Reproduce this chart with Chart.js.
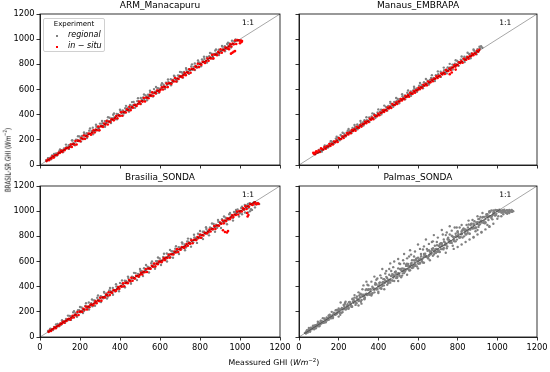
<!DOCTYPE html>
<html><head><meta charset="utf-8">
<script src="https://cdn.jsdelivr.net/npm/chart.js@4"></script>
<style>
html,body{margin:0;padding:0;background:#fff;width:550px;height:372px;overflow:hidden;position:relative;font-family:"DejaVu Sans",sans-serif;}
canvas{position:absolute;left:0;top:0;}
.axlbl{position:absolute;font-size:7.8px;color:#000;white-space:nowrap;transform:translate(-50%,-50%);}
#ylab{font-size:7.8px;transform:translate(-50%,-50%) rotate(-90deg) scaleX(0.72);}
#legend{position:absolute;left:43px;top:18px;width:62px;height:34px;border:1px solid #d0d0d0;border-radius:2px;background:rgba(255,255,255,0.85);box-sizing:border-box;}
#legend .ttl{position:absolute;top:1px;left:0;width:100%;text-align:center;font-size:7px;}
#legend .row{position:absolute;left:0;width:100%;font-size:8px;font-style:italic;}
#legend .dot{position:absolute;left:12px;top:5px;width:2px;height:2px;}
#legend .txt{position:absolute;left:24px;top:0;}
</style></head><body>
<canvas id="c0" width="550" height="372"></canvas>
<canvas id="c1" width="550" height="372"></canvas>
<canvas id="c2" width="550" height="372"></canvas>
<canvas id="c3" width="550" height="372"></canvas>
<div id="legend"><div class="ttl">Experiment</div></div>
<div id="ylab" class="axlbl" style="left:7px;top:160px">BRASIL-SR GHI (<i>Wm</i><sup style="font-size:5.5px">−2</sup>)</div>
<div id="xlab" class="axlbl" style="left:274px;top:362px">Meassured GHI (<i>Wm</i><sup style="font-size:5.5px">−2</sup>)</div>
<script>
// ---------------- data ----------------
const panelTitles = ['ARM_Manacapuru','Manaus_EMBRAPA','Brasilia_SONDA','Palmas_SONDA'];
const seriesNames = ['regional','in \u2212 situ'];
const tickValues = [0,200,400,600,800,1000,1200];
const oneToOne = [[0,0],[1200,1200]];

const armRegional = [[30,39],[36,38],[42,55],[48,45],[54,60],[60,76],[66,69],[72,66],[78,89],[84,91],[90,89],[96,110],[102,106],[108,118],[114,110],[120,132],[126,128],[132,141],[138,139],[144,157],[150,144],[156,168],[162,195],[168,175],[174,162],[180,202],[186,200],[192,190],[198,227],[204,213],[210,230],[216,207],[222,247],[228,232],[234,252],[240,243],[246,273],[252,246],[258,270],[264,297],[270,277],[276,264],[282,304],[288,302],[294,292],[300,329],[306,315],[312,332],[318,309],[324,349],[330,334],[336,354],[342,345],[348,375],[354,348],[360,372],[366,399],[372,379],[378,366],[384,406],[390,404],[396,394],[402,431],[408,417],[414,434],[420,411],[426,451],[432,436],[438,456],[444,447],[450,477],[456,450],[462,474],[468,501],[474,481],[480,468],[486,508],[492,506],[498,496],[504,533],[510,519],[516,536],[522,513],[528,553],[534,538],[540,558],[546,549],[552,579],[558,552],[564,576],[570,603],[576,583],[582,570],[588,610],[594,608],[600,598],[606,635],[612,621],[618,638],[624,615],[630,655],[636,640],[642,660],[648,651],[654,681],[660,654],[666,678],[672,705],[678,685],[684,672],[690,712],[696,710],[702,700],[708,737],[714,723],[720,740],[726,717],[732,757],[738,742],[744,762],[750,753],[756,783],[762,756],[768,780],[774,807],[780,787],[786,774],[792,814],[798,812],[804,802],[810,839],[816,825],[822,842],[828,819],[834,859],[840,844],[846,864],[852,855],[858,885],[864,858],[870,882],[876,909],[882,889],[888,876],[894,916],[900,914],[906,904],[912,941],[918,927],[924,944],[930,921],[936,961],[942,946],[948,966],[954,957],[960,987],[966,960],[972,984],[978,998],[984,991]];
const armRegionalEdge = [[40,55],[55,46],[70,88],[85,76],[100,124],[115,102],[130,162],[145,128],[160,196],[175,156],[190,228],[205,186],[220,258],[235,214],[250,290],[265,244],[280,320],[295,274],[310,350],[325,304],[340,380],[355,334],[370,410],[385,364],[400,440],[415,394],[430,470],[445,424],[460,500],[475,454],[490,530],[505,484],[520,560],[535,514],[550,590],[565,544],[580,620],[595,574],[610,650],[625,604],[640,680],[655,634],[670,710],[685,664],[700,740],[715,694],[730,770],[745,724],[760,800],[775,754],[790,830],[805,784],[820,860],[835,814],[850,890],[865,844],[880,918],[895,874],[910,946],[925,904],[940,972],[955,934]];
const armInsitu = [[33,31],[39,43],[45,38],[51,52],[57,53],[63,70],[69,59],[75,77],[81,80],[87,81],[93,97],[99,96],[105,113],[111,103],[117,117],[123,118],[129,132],[135,135],[141,134],[147,143],[153,162],[159,144],[165,167],[171,162],[177,191],[183,163],[189,194],[195,193],[201,189],[207,215],[213,207],[219,235],[225,208],[231,232],[237,227],[243,249],[249,248],[255,241],[261,257],[267,276],[273,258],[279,281],[285,276],[291,305],[297,277],[303,308],[309,307],[315,303],[321,329],[327,321],[333,349],[339,322],[345,346],[351,341],[357,363],[363,362],[369,355],[375,371],[381,390],[387,372],[393,395],[399,390],[405,419],[411,391],[417,422],[423,421],[429,417],[435,443],[441,435],[447,463],[453,436],[459,460],[465,455],[471,477],[477,476],[483,469],[489,485],[495,504],[501,486],[507,509],[513,504],[519,533],[525,505],[531,536],[537,535],[543,531],[549,557],[555,549],[561,577],[567,550],[573,574],[579,569],[585,591],[591,590],[597,583],[603,599],[609,618],[615,600],[621,623],[627,618],[633,647],[639,619],[645,650],[651,649],[657,645],[663,671],[669,663],[675,691],[681,664],[687,688],[693,683],[699,705],[705,704],[711,697],[717,713],[723,732],[729,714],[735,737],[741,732],[747,761],[753,733],[759,764],[765,763],[771,759],[777,785],[783,777],[789,805],[795,778],[801,802],[807,797],[813,819],[819,818],[825,811],[831,827],[837,846],[843,828],[849,851],[855,846],[861,875],[867,847],[873,878],[879,877],[885,873],[891,899],[897,891],[903,919],[909,892],[915,916],[921,911],[927,933],[933,932],[939,925],[945,941],[951,960],[957,942],[963,965],[969,960],[975,989],[981,961],[987,992],[993,991],[999,987],[1005,990],[955,885],[962,892],[968,900],[975,905],[1000,968],[1008,978],[1010,985],[945,920]];

const manausRegional = [[90,97],[96,98],[102,114],[108,112],[114,124],[120,120],[126,140],[132,138],[138,141],[144,155],[150,147],[156,172],[162,188],[168,177],[174,188],[180,184],[186,210],[192,200],[198,217],[204,204],[210,238],[216,227],[222,228],[228,249],[234,231],[240,256],[246,272],[252,261],[258,272],[264,268],[270,294],[276,284],[282,301],[288,288],[294,322],[300,311],[306,312],[312,333],[318,315],[324,340],[330,356],[336,345],[342,356],[348,352],[354,378],[360,368],[366,385],[372,372],[378,406],[384,395],[390,396],[396,417],[402,399],[408,424],[414,440],[420,429],[426,440],[432,436],[438,462],[444,452],[450,469],[456,456],[462,490],[468,479],[474,480],[480,501],[486,483],[492,508],[498,524],[504,513],[510,524],[516,520],[522,546],[528,536],[534,553],[540,540],[546,574],[552,563],[558,564],[564,585],[570,567],[576,592],[582,608],[588,597],[594,608],[600,604],[606,630],[612,620],[618,637],[624,624],[630,658],[636,647],[642,648],[648,669],[654,651],[660,676],[666,692],[672,681],[678,692],[684,688],[690,714],[696,704],[702,721],[708,708],[714,742],[720,731],[726,732],[732,753],[738,735],[744,760],[750,776],[756,765],[762,776],[768,772],[774,798],[780,788],[786,805],[792,792],[798,826],[804,815],[810,816],[816,837],[822,819],[828,844],[834,860],[840,849],[846,860],[852,856],[858,882],[864,872],[870,889],[876,876],[882,910],[888,899],[894,900],[900,921],[906,903],[912,928],[918,944],[924,933]];
const manausRegionalEdge = [[100,120],[115,106],[130,156],[145,138],[160,190],[175,168],[190,224],[205,196],[220,256],[235,226],[250,286],[265,254],[280,318],[295,284],[310,350],[325,314],[340,380],[355,342],[370,410],[385,374],[400,442],[415,402],[430,472],[445,432],[460,502],[475,462],[490,532],[505,490],[520,562],[535,522],[550,592],[565,550],[580,622],[595,582],[610,652],[625,610],[640,684],[655,640],[670,714],[685,668],[700,744],[715,700],[730,774],[745,728],[760,804],[775,758],[790,832],[805,788],[820,862],[835,818],[850,892],[865,848],[880,918],[895,880],[910,940]];
const manausInsitu = [[72,97],[78,92],[84,100],[75,90],[81,85],[87,109],[93,100],[99,115],[105,103],[111,132],[117,125],[123,123],[129,143],[135,129],[141,149],[147,147],[153,166],[159,152],[165,168],[171,163],[177,187],[183,180],[189,195],[195,183],[201,214],[207,207],[213,207],[219,227],[225,215],[231,235],[237,235],[243,254],[249,242],[255,258],[261,253],[267,277],[273,270],[279,285],[285,273],[291,304],[297,297],[303,297],[309,317],[315,305],[321,325],[327,325],[333,344],[339,332],[345,348],[351,343],[357,367],[363,360],[369,375],[375,363],[381,394],[387,387],[393,387],[399,407],[405,395],[411,415],[417,415],[423,434],[429,422],[435,438],[441,433],[447,457],[453,450],[459,465],[465,453],[471,484],[477,477],[483,477],[489,497],[495,485],[501,505],[507,505],[513,524],[519,512],[525,528],[531,523],[537,547],[543,540],[549,555],[555,543],[561,574],[567,567],[573,567],[579,587],[585,575],[591,595],[597,595],[603,614],[609,602],[615,618],[621,613],[627,637],[633,630],[639,645],[645,633],[651,664],[657,657],[663,657],[669,677],[675,665],[681,685],[687,685],[693,704],[699,692],[705,708],[711,703],[717,727],[723,720],[729,735],[735,723],[741,754],[747,747],[753,747],[759,767],[765,755],[771,775],[777,775],[783,794],[789,782],[795,798],[801,793],[807,817],[813,810],[819,825],[825,813],[831,844],[837,837],[843,837],[849,857],[855,845],[861,865],[867,865],[873,884],[879,872],[885,888],[891,883],[897,907],[903,900],[909,915],[760,722],[770,735],[790,758]];

const brasiliaRegional = [[40,48],[46,44],[52,65],[58,60],[64,57],[70,80],[76,80],[82,78],[88,103],[94,94],[100,106],[106,97],[112,123],[118,126],[124,122],[130,143],[136,138],[142,135],[148,168],[154,163],[160,152],[166,196],[172,172],[178,190],[184,166],[190,213],[196,212],[202,197],[208,234],[214,218],[220,206],[226,246],[232,241],[238,230],[244,274],[250,250],[256,268],[262,244],[268,291],[274,290],[280,275],[286,312],[292,296],[298,284],[304,324],[310,319],[316,308],[322,352],[328,328],[334,346],[340,322],[346,369],[352,368],[358,353],[364,390],[370,374],[376,362],[382,402],[388,397],[394,386],[400,430],[406,406],[412,424],[418,400],[424,447],[430,446],[436,431],[442,468],[448,452],[454,440],[460,480],[466,475],[472,464],[478,508],[484,484],[490,502],[496,478],[502,525],[508,524],[514,509],[520,546],[526,530],[532,518],[538,558],[544,553],[550,542],[556,586],[562,562],[568,580],[574,556],[580,603],[586,602],[592,587],[598,624],[604,608],[610,596],[616,636],[622,631],[628,620],[634,664],[640,640],[646,658],[652,634],[658,681],[664,680],[670,665],[676,702],[682,686],[688,674],[694,714],[700,709],[706,698],[712,742],[718,718],[724,736],[730,712],[736,759],[742,758],[748,743],[754,780],[760,764],[766,752],[772,792],[778,787],[784,776],[790,820],[796,796],[802,814],[808,790],[814,837],[820,836],[826,821],[832,858],[838,842],[844,830],[850,870],[856,865],[862,854],[868,898],[874,874],[880,892],[886,868],[892,915],[898,914],[904,899],[910,936],[916,920],[922,908],[928,948],[934,943],[940,932],[946,976],[952,952],[958,970],[964,946],[970,993],[976,992],[982,977],[988,1014],[994,998],[1000,986],[1006,1026],[1012,1021],[1018,1010],[1024,1049],[1030,1030],[1036,1048],[1042,1024],[1048,1063],[1054,1059],[1060,1050],[1066,1066],[1072,1052],[1078,1066],[1084,1054],[1090,1065],[1096,1056],[1040,990],[1050,1000],[1060,1010],[1075,1030],[1010,975]];
const brasiliaRegionalEdge = [[50,62],[65,56],[80,100],[95,86],[110,134],[125,112],[140,170],[155,136],[170,205],[185,160],[200,238],[215,190],[230,268],[245,218],[260,298],[275,248],[290,330],[305,278],[320,358],[335,306],[350,390],[365,336],[380,420],[395,364],[410,450],[425,394],[440,480],[455,424],[470,510],[485,452],[500,540],[515,484],[530,572],[545,512],[560,600],[575,542],[590,632],[605,572],[620,662],[635,600],[650,692],[665,630],[680,722],[695,660],[710,752],[725,690],[740,782],[755,718],[770,812],[785,748],[800,842],[815,778],[830,872],[845,808],[860,902],[875,836],[890,930],[905,866],[920,958],[935,896],[950,985],[965,925],[980,1010],[995,958],[1010,1035],[1025,990],[1040,1058],[1055,1015],[1070,1072]];
const brasiliaInsitu = [[43,41],[49,52],[55,48],[61,61],[67,63],[73,78],[79,70],[85,86],[91,90],[97,92],[103,106],[109,106],[115,121],[121,113],[127,127],[133,128],[139,141],[145,144],[151,138],[157,152],[163,169],[169,155],[175,176],[181,172],[187,198],[193,175],[199,202],[205,202],[211,200],[217,224],[223,216],[229,242],[235,219],[241,241],[247,237],[253,258],[259,257],[265,252],[271,266],[277,283],[283,269],[289,290],[295,286],[301,312],[307,289],[313,316],[319,316],[325,314],[331,338],[337,330],[343,356],[349,333],[355,355],[361,351],[367,372],[373,371],[379,366],[385,380],[391,397],[397,383],[403,404],[409,400],[415,426],[421,403],[427,430],[433,430],[439,428],[445,452],[451,444],[457,470],[463,447],[469,469],[475,465],[481,486],[487,485],[493,480],[499,494],[505,511],[511,497],[517,518],[523,514],[529,540],[535,517],[541,544],[547,544],[553,542],[559,566],[565,558],[571,584],[577,561],[583,583],[589,579],[595,600],[601,599],[607,594],[613,608],[619,625],[625,611],[631,632],[637,628],[643,654],[649,631],[655,658],[661,658],[667,656],[673,680],[679,672],[685,698],[691,675],[697,697],[703,693],[709,714],[715,713],[721,708],[727,722],[733,739],[739,725],[745,746],[751,742],[757,768],[763,745],[769,772],[775,772],[781,770],[787,794],[793,786],[799,812],[805,789],[811,811],[817,807],[823,828],[829,827],[835,822],[841,836],[847,853],[853,839],[859,860],[865,856],[871,882],[877,859],[883,886],[889,886],[895,884],[901,908],[907,900],[913,926],[919,903],[925,925],[931,921],[937,942],[943,941],[949,936],[955,950],[961,967],[967,953],[973,974],[979,970],[985,996],[991,973],[997,1000],[1003,1000],[1009,998],[1015,1022],[1021,1014],[1027,1040],[1033,1017],[1039,1039],[1045,1035],[1051,1056],[1057,1055],[1063,1050],[1069,1064],[1075,1070],[1081,1055],[1087,1062],[1093,1058],[915,848],[925,835],[935,830],[940,842],[1038,958],[1042,970],[1035,985]];

const palmasRegional = [[30,33],[35,27],[40,54],[45,43],[50,71],[55,43],[60,68],[65,65],[70,87],[75,70],[80,91],[85,70],[90,95],[95,121],[100,85],[105,108],[110,130],[115,110],[120,150],[125,115],[130,140],[135,117],[140,155],[145,150],[150,137],[155,178],[160,157],[165,200],[170,150],[175,188],[180,180],[185,213],[190,182],[195,213],[200,162],[205,216],[210,274],[215,192],[220,224],[225,255],[230,222],[235,280],[240,225],[245,260],[250,224],[255,278],[260,268],[265,246],[270,304],[275,271],[280,333],[285,255],[290,309],[295,295],[300,355],[305,290],[310,345],[315,265],[320,335],[325,410],[330,300],[335,340],[340,380],[345,335],[350,410],[355,335],[360,380],[365,330],[370,400],[375,385],[380,355],[385,430],[390,385],[395,465],[400,360],[405,430],[410,410],[415,470],[420,405],[425,460],[430,380],[435,450],[440,525],[445,415],[450,455],[455,495],[460,450],[465,525],[470,450],[475,495],[480,445],[485,515],[490,500],[495,470],[500,545],[505,500],[510,580],[515,475],[520,545],[525,525],[530,585],[535,520],[540,575],[545,495],[550,565],[555,640],[560,530],[565,570],[570,610],[575,565],[580,640],[585,565],[590,610],[595,560],[600,630],[605,615],[610,585],[615,660],[620,615],[625,695],[630,590],[635,660],[640,640],[645,700],[650,635],[655,690],[660,610],[665,680],[670,755],[675,645],[680,685],[685,725],[690,680],[695,755],[700,680],[705,725],[710,675],[715,745],[720,730],[725,700],[730,775],[735,730],[740,810],[745,705],[750,775],[755,755],[760,815],[765,750],[770,805],[775,725],[780,795],[785,870],[790,760],[795,800],[800,840],[805,795],[810,870],[815,795],[820,840],[825,790],[830,860],[835,845],[840,815],[845,890],[850,845],[855,925],[860,820],[865,890],[870,870],[875,930],[880,865],[885,920],[890,840],[895,910],[900,960],[905,875],[910,915],[915,955],[920,910],[925,985],[930,910],[935,955],[940,905],[945,975],[950,960],[955,930],[960,1000],[965,960],[970,1005],[975,935],[980,1005],[985,985],[990,1010],[995,980],[1000,1008],[1005,960],[1010,1012],[1015,1000],[1020,990],[1025,1008],[1030,995],[1035,1012],[1040,1002],[1045,985],[1050,1005],[1055,998],[1060,1010],[1065,1000],[1070,995],[1075,1004],[1080,1000],[60,60],[80,82],[100,98],[120,123],[140,138],[160,163],[180,178],[200,203],[220,218],[240,243],[260,258],[280,283],[300,298],[320,324],[340,337],[360,364],[380,377],[400,404],[420,417],[440,444],[460,457],[480,484],[500,497],[520,524],[540,537],[560,564],[580,577],[600,604],[620,617],[640,644],[660,657],[680,684],[700,697],[720,724],[740,737],[760,764],[780,777],[800,804],[820,817],[840,844],[860,857],[880,884],[900,897],[920,924],[940,937],[960,962],[980,975],[70,80],[90,84],[110,128],[130,118],[150,172],[170,158],[190,215],[210,195],[230,258],[250,232],[270,300],[290,268],[310,340],[330,308],[350,380],[370,348],[390,420],[410,388],[430,460],[450,428],[470,500],[490,468],[510,540],[530,508],[550,580],[570,548],[590,620],[610,588],[630,660],[650,628],[670,700],[690,668],[710,740],[730,708],[750,780],[770,748],[790,820],[810,788],[830,860],[850,828],[870,900],[890,868],[910,940],[930,908],[950,975],[970,945],[420,540],[460,585],[500,620],[530,660],[560,690],[600,735],[640,775],[680,810],[720,850],[760,880],[480,600],[380,480],[340,440],[780,700],[800,715],[820,735],[840,755],[860,775],[880,795],[900,815],[920,835],[940,855],[960,875],[980,900],[860,820],[900,850],[950,890],[1040,990],[1060,985],[1075,995]];
const palmasRegionalCore = [[36,42],[44,35],[52,54],[60,73],[68,64],[76,62],[84,93],[92,90],[100,115],[108,101],[116,120],[124,113],[132,138],[140,131],[148,150],[156,169],[164,160],[172,158],[180,189],[188,186],[196,211],[204,190],[212,220],[220,198],[228,240],[236,218],[244,248],[252,277],[260,252],[268,240],[276,294],[284,281],[292,322],[300,286],[308,316],[316,294],[324,336],[332,314],[340,344],[348,373],[356,348],[364,336],[372,390],[380,377],[388,418],[396,382],[404,412],[412,390],[420,432],[428,410],[436,440],[444,469],[452,444],[460,432],[468,486],[476,473],[484,514],[492,478],[500,508],[508,486],[516,528],[524,506],[532,536],[540,565],[548,540],[556,528],[564,582],[572,569],[580,610],[588,574],[596,604],[604,582],[612,624],[620,602],[628,632],[636,661],[644,636],[652,624],[660,678],[668,665],[676,706],[684,670],[692,700],[700,678],[708,720],[716,698],[724,728],[732,757],[740,732],[748,720],[756,774],[764,761],[772,802],[780,766],[788,796],[796,774],[804,816],[812,794],[820,824],[828,853],[836,828],[844,816],[852,870],[860,857],[868,898],[876,862],[884,892],[892,870],[900,912],[908,890],[916,920],[924,949],[932,924],[940,912],[948,966],[956,953],[964,994],[972,958],[980,988],[988,966],[996,1008],[320,380],[345,415],[365,440],[390,455],[410,490],[435,505],[455,540],[475,555],[505,585],[525,610],[545,625],[565,655],[585,680],[610,700],[630,720],[655,740],[675,760],[700,790],[725,815],[745,830],[770,845],[795,870],[820,890],[300,250],[400,350],[500,445],[600,545],[700,640],[740,670],[880,790],[920,830],[960,880],[1000,940],[1020,960],[1030,975],[1050,980]];
const palmasRegionalMid = [[40,37],[48,58],[56,44],[64,69],[72,89],[80,72],[88,89],[96,109],[104,88],[112,119],[120,119],[128,147],[136,131],[144,141],[152,162],[160,148],[168,173],[176,193],[184,176],[192,193],[200,226],[208,176],[216,230],[224,222],[232,270],[240,230],[248,242],[256,276],[264,240],[272,281],[280,313],[288,273],[296,298],[304,330],[312,280],[320,334],[328,326],[336,374],[344,334],[352,346],[360,380],[368,344],[376,385],[384,417],[392,377],[400,402],[408,434],[416,384],[424,438],[432,430],[440,478],[448,438],[456,450],[464,484],[472,448],[480,489],[488,521],[496,481],[504,506],[512,538],[520,488],[528,542],[536,534],[544,582],[552,542],[560,554],[568,588],[576,552],[584,593],[592,625],[600,585],[608,610],[616,642],[624,592],[632,646],[640,638],[648,686],[656,646],[664,658],[672,692],[680,656],[688,697],[696,729],[704,689],[712,714],[720,746],[728,696],[736,750],[744,742],[752,790],[760,750],[768,762],[776,796],[784,760],[792,801],[800,833],[808,793],[816,818],[824,850],[832,800],[840,854],[848,846],[856,894],[864,854],[872,866],[880,900],[888,864],[896,905],[904,937],[912,897],[920,922],[928,954],[936,904],[944,958],[952,950],[960,990],[968,958],[976,970],[984,999],[992,968],[1000,1000],[1008,995],[1016,1004],[1024,990],[1032,1006],[1040,996],[1048,1008],[1056,992],[1064,1003],[1072,1009]];

// ---------------- rendering ----------------
Chart.defaults.font.family = '"DejaVu Sans", sans-serif';
Chart.defaults.color = '#000';
const GRAY = '#808080', RED = '#ff0000';
const toXY = a => a.map(p => ({x:p[0], y:p[1]}));
const W = 550, H = 372, YW = 30, XH = 16, TH = 14;

const framePlugin = {
  id:'frame',
  afterDatasetsDraw(chart){
    const {ctx, scales} = chart;
    ctx.save();
    ctx.fillStyle = '#000';
    ctx.font = '7.5px "DejaVu Sans"';
    ctx.textAlign = 'center'; ctx.textBaseline = 'middle';
    ctx.fillText('1:1', scales.x.getPixelForValue(1040), scales.y.getPixelForValue(1125));
    ctx.restore();
  },
  afterDraw(chart){
    const {ctx, chartArea:a} = chart;
    ctx.save();
    ctx.strokeStyle = '#000'; ctx.lineWidth = 0.8;
    ctx.strokeRect(a.left, a.top, a.right - a.left, a.bottom - a.top);
    ctx.restore();
  }
};

function axis(showLabels, isX){
  return {
    type:'linear', min:0, max:1200,
    afterBuildTicks: s => { s.ticks = tickValues.map(v => ({value:v})); },
    afterFit: s => { if (isX) s.height = XH; else s.width = YW; },
    ticks:{ color: showLabels ? '#000' : 'rgba(0,0,0,0)', font:{size:8.3}, padding:2, maxRotation:0, autoSkip:false, callback: v => String(v) },
    grid:{ display:true, drawOnChartArea:false, drawTicks:true, tickLength:3.5, color:'#000', lineWidth:0.8 },
    border:{ display:true, color:'#000', width:0.8 }
  };
}

function makePanel(id, title, area, regional, insitu, showX, showY){
  const ds = [];
  ds.push({label:'1:1', data:toXY(oneToOne), showLine:true, borderColor:'rgba(0,0,0,0.5)', borderWidth:0.7, pointRadius:0, order:0});
  if (insitu) ds.push({label:seriesNames[1], data:toXY(insitu), backgroundColor:RED, borderWidth:0, pointRadius:1.3, order:1});
  ds.push({label:seriesNames[0], data:toXY(regional), backgroundColor:GRAY, borderWidth:0, pointRadius:1.2, order:2});
  return new Chart(document.getElementById(id), {
    type:'scatter',
    data:{datasets:ds},
    options:{
      responsive:false, animation:false, events:[],
      layout:{padding:{left:area.left - YW, top:area.top - TH, right:W - area.right, bottom:H - area.bottom - XH}},
      plugins:{
        legend:{display:false}, tooltip:{enabled:false},
        title:{display:true, text:title, fullSize:false, color:'#000', font:{size:9, weight:'normal', lineHeight:1.2}, padding:{top:0,bottom:3.2}}
      },
      scales:{ x:axis(showX, true), y:axis(showY, false) }
    },
    plugins:[framePlugin]
  });
}

const c0 = makePanel('c0', panelTitles[0], {left:40, top:14, right:280, bottom:165}, armRegional.concat(armRegionalEdge), armInsitu, false, true);
makePanel('c1', panelTitles[1], {left:299, top:14, right:537, bottom:165}, manausRegional.concat(manausRegionalEdge), manausInsitu, false, false);
makePanel('c2', panelTitles[2], {left:40, top:186, right:280, bottom:337}, brasiliaRegional.concat(brasiliaRegionalEdge), brasiliaInsitu, true, true);
makePanel('c3', panelTitles[3], {left:299, top:186, right:537, bottom:337}, palmasRegional.concat(palmasRegionalCore, palmasRegionalMid), null, true, false);

// legend built from the first panel's datasets
const leg = document.getElementById('legend');
const legendSets = c0.data.datasets.filter(d => d.label !== '1:1').sort((a,b) => b.order - a.order);
legendSets.forEach((d, i) => {
  const row = document.createElement('div');
  row.className = 'row';
  row.style.top = (11 + i * 11) + 'px';
  row.innerHTML = '<span class="dot" style="background:' + d.backgroundColor + '"></span><span class="txt">' + d.label + '</span>';
  leg.appendChild(row);
});
</script>
</body></html>
